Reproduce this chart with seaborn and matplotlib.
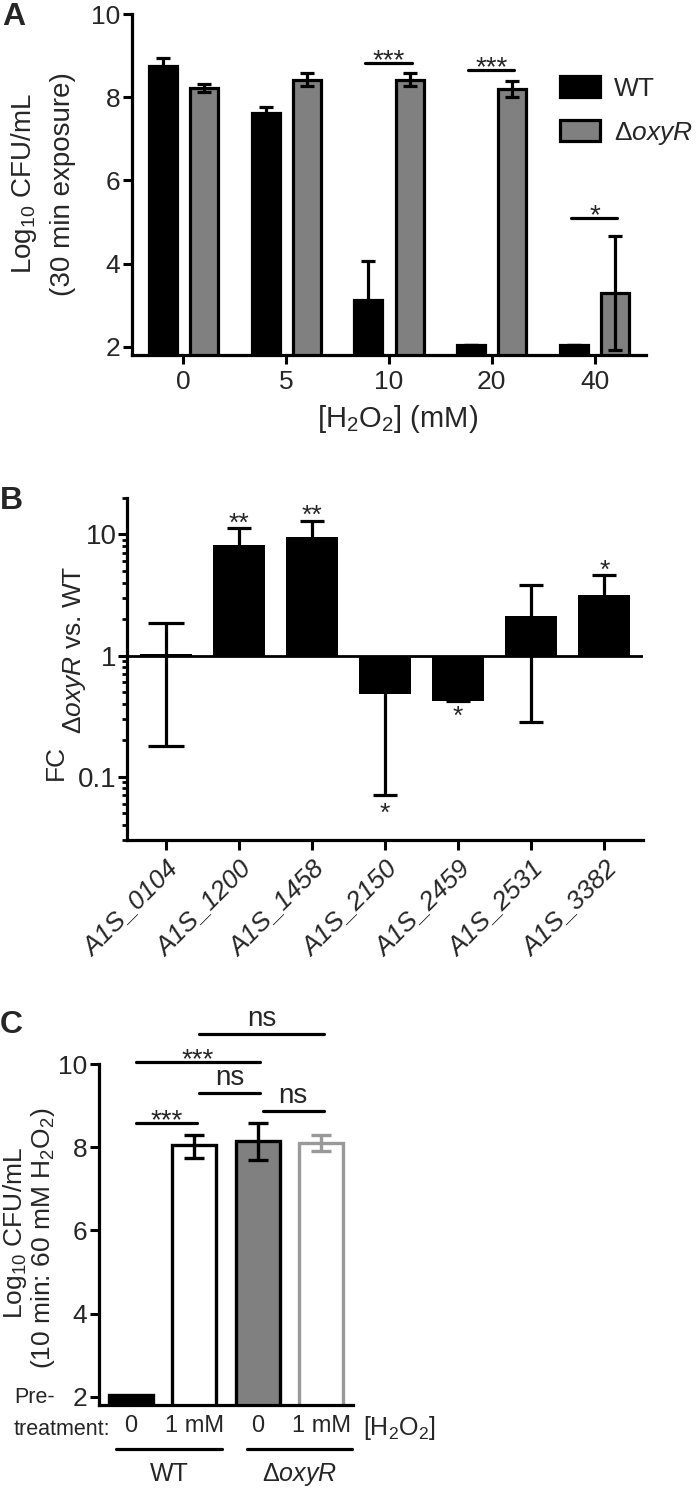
import numpy as np
import pandas as pd
import matplotlib
matplotlib.use("Agg")
import matplotlib.pyplot as plt
from matplotlib.patches import Patch
from matplotlib.lines import Line2D
from matplotlib.ticker import FixedLocator
import seaborn as sns

sns.set_theme(style="ticks")
plt.rcParams["font.family"] = ["Liberation Sans", "DejaVu Sans"]
plt.rcParams["mathtext.fontset"] = "custom"
plt.rcParams["mathtext.rm"] = "Liberation Sans"
plt.rcParams["mathtext.it"] = "Liberation Sans:italic"
plt.rcParams["mathtext.bf"] = "Liberation Sans:bold"

# ---- data: panel A (log10 CFU/mL after 30 min H2O2) ----
h2o2 = ["0", "5", "10", "20", "40"]
strains = ["WT", "ΔoxyR"]
a_wt = [8.75, 7.62, 3.13, 2.04, 2.04]
a_wt_sd = [0.20, 0.15, 0.92, 0.0, 0.0]
a_mut = [8.22, 8.42, 8.42, 8.20, 3.30]
a_mut_sd = [0.10, 0.15, 0.15, 0.20, 1.37]
a_sig = ["", "", "***", "***", "*"]
a_sig_y = [np.nan, np.nan, 8.83, 8.66, 5.10]

# ---- data: panel B (fold change, dOxyR vs WT) ----
genes = ["A1S_0104", "A1S_1200", "A1S_1458", "A1S_2150", "A1S_2459", "A1S_2531", "A1S_3382"]
fc = [1.03, 8.2, 9.5, 0.48, 0.42, 2.14, 3.19]
fc_lo = [0.18, 5.5, 6.5, 0.07, 0.42, 0.285, 1.8]
fc_hi = [1.85, 11.2, 13.0, 0.90, 0.60, 3.86, 4.6]
fc_sig = ["", "**", "**", "*", "*", "", "*"]
fc_sig_side = ["", "up", "up", "down", "down", "", "up"]

# ---- data: panel C (pretreatment) ----
c_groups = ["WT 0", "WT 1 mM", "oxyR 0", "oxyR 1 mM"]
c_ticklabels = ["0", "1 mM", "0", "1 mM"]
c_vals = [2.03, 8.05, 8.15, 8.10]
c_lo = [2.03, 7.75, 7.68, 7.90]
c_hi = [2.03, 8.30, 8.58, 8.30]
c_face = ["black", "white", "#808080", "white"]
c_edge = ["black", "black", "black", "#999999"]
c_pairs = [(0, 1), (1, 2), (2, 3), (0, 2), (1, 3)]
c_pair_sig = ["***", "ns", "ns", "***", "ns"]
c_pair_y = [8.59, 9.30, 8.87, 10.05, 10.72]

W, H = 700, 1489
fig = plt.figure(figsize=(W / 100, H / 100), dpi=100)


def fx(px):
    return px / W


def fy(py):
    return 1 - py / H


def style_axes(ax, size):
    sns.despine(ax=ax)
    for s in ["left", "bottom"]:
        ax.spines[s].set_linewidth(2.3)
        ax.spines[s].set_color("black")
    ax.tick_params(axis="both", width=2.2, length=6.5, color="black", labelsize=size, pad=2)


def vtext(px, py, s, size):
    fig.text(fx(px), fy(py), s, rotation=90, rotation_mode="anchor", ha="center",
             va="baseline", fontsize=size)


# ================= Panel A =================
axA = fig.add_axes([fx(132), fy(355), fx(514), 341 / H])
dfA = pd.DataFrame({"conc": h2o2 * 2, "strain": [strains[0]] * 5 + [strains[1]] * 5,
                    "cfu": a_wt + a_mut})
sns.barplot(data=dfA, x="conc", y="cfu", hue="strain", order=h2o2, hue_order=strains,
            palette={"WT": "black", "ΔoxyR": "#808080"}, width=0.8, gap=0.32,
            edgecolor="black", linewidth=2.3, errorbar=None, legend=False, ax=axA)
for cont, sd in zip(axA.containers, [a_wt_sd, a_mut_sd]):
    xs = [b.get_x() + b.get_width() / 2 for b in cont]
    ys = [b.get_height() for b in cont]
    axA.errorbar(xs, ys, yerr=sd, fmt="none", ecolor="black", elinewidth=2.3,
                 capsize=5, capthick=2.3, zorder=3)
for i, (s, yv) in enumerate(zip(a_sig, a_sig_y)):
    if s:
        axA.plot([i - 0.23, i + 0.22], [yv, yv], color="black", lw=2.3, clip_on=False)
        axA.annotate(s, (i, yv), xytext=(0, -4), textcoords="offset points",
                     ha="center", va="baseline", fontsize=20)
axA.set_ylim(1.8, 10)
axA.set_xlim(-0.5, 4.5)
axA.set_yticks([2, 4, 6, 8, 10])
axA.set_xlabel("")
axA.set_ylabel("")
style_axes(axA, 19)
axA.tick_params(axis="x", pad=4)
fig.text(fx(398), fy(427), r"[H$_\mathregular{2}$O$_\mathregular{2}$] (mM)", ha="center",
         va="baseline", fontsize=21)
vtext(31, 184, r"Log$_\mathregular{10}$ CFU/mL", 20)
vtext(70, 184, "(30 min exposure)", 20)
handles = [Patch(facecolor="black", edgecolor="black", linewidth=2.3),
           Patch(facecolor="#808080", edgecolor="black", linewidth=2.3)]
fig.legend(handles, ["WT", "Δ" + r"$\mathit{oxyR}$"], loc="upper left",
           bbox_to_anchor=(fx(560), fy(76)), frameon=False, fontsize=19,
           handlelength=1.5, handleheight=0.83, labelspacing=0.72, handletextpad=0.55,
           borderpad=0, borderaxespad=0)
fig.text(fx(2), fy(2), "A", fontsize=23, fontweight="bold", ha="left", va="top")

# ================= Panel B =================
axB = fig.add_axes([fx(127), fy(840), fx(516), 342 / H])
logfc = np.log10(fc)
sns.barplot(x=genes, y=logfc, color="black", width=0.71, edgecolor="black",
            linewidth=0, errorbar=None, ax=axB)
axB.axhline(0, color="black", lw=2.0, zorder=2)
for i in range(len(genes)):
    lo = max(logfc[i] - np.log10(fc_lo[i]), 0)
    hi = max(np.log10(fc_hi[i]) - logfc[i], 0)
    axB.errorbar([i], [logfc[i]], yerr=[[lo], [hi]], fmt="none", ecolor="black",
                 elinewidth=2.3, capsize=13 if i == 0 else 8.5, capthick=2.3, zorder=3)
    if fc_sig[i] == "":
        continue
    if fc_sig_side[i] == "up":
        axB.annotate(fc_sig[i], (i, np.log10(fc_hi[i])), xytext=(0, -1.5),
                     textcoords="offset points", ha="center", va="baseline", fontsize=19)
    else:
        yv = min(np.log10(fc_lo[i]), logfc[i])
        off = -18 if fc_lo[i] < fc[i] else -16
        axB.annotate(fc_sig[i], (i, yv), xytext=(0, off),
                     textcoords="offset points", ha="center", va="baseline", fontsize=19)
axB.set_ylim(np.log10(0.03), np.log10(20))
axB.set_xlim(-0.53, 6.53)
axB.set_yticks([-1, 0, 1])
axB.set_yticklabels(["0.1", "1", "10"])
minor = [k * 10.0 ** e for e in (-2, -1, 0, 1) for k in range(2, 10)]
minor = [np.log10(m) for m in minor if 0.03 <= m <= 20]
axB.yaxis.set_minor_locator(FixedLocator(minor))
style_axes(axB, 20)
axB.tick_params(axis="y", which="minor", width=2.0, length=3.5, color="black")
axB.tick_params(axis="y", pad=1)
axB.set_xticks(range(len(genes)))
axB.set_xticklabels(genes, rotation=45, ha="right", rotation_mode="anchor",
                    fontsize=19, style="italic")
axB.tick_params(axis="x", length=7, pad=5)
fig.text(fx(56), fy(762), "FC", rotation=90, ha="center", va="center", fontsize=19)
fig.text(fx(74), fy(650), "Δ" + r"$\mathit{oxyR}$" + " vs. WT", rotation=90,
         ha="center", va="center", fontsize=19)
fig.text(fx(0), fy(486), "B", fontsize=23, fontweight="bold", ha="left", va="top")

# ================= Panel C =================
axC = fig.add_axes([fx(99), fy(1405), fx(254), 341 / H])
sns.barplot(x=c_groups, y=c_vals, hue=c_groups, palette=c_face, width=0.69,
            linewidth=2.4, errorbar=None, legend=False, ax=axC)
for bar, ec in zip(axC.patches, c_edge):
    bar.set_edgecolor(ec)
for i in range(1, len(c_groups)):
    axC.errorbar([i], [c_vals[i]], yerr=[[c_vals[i] - c_lo[i]], [c_hi[i] - c_vals[i]]],
                 fmt="none", ecolor=c_edge[i], elinewidth=2.4, capsize=7.5,
                 capthick=2.4, zorder=3)
for (i, j), s, yv in zip(c_pairs, c_pair_sig, c_pair_y):
    x0, x1 = i + 0.08, j + 0.04
    axC.plot([x0, x1], [yv, yv], color="black", lw=2.3, clip_on=False)
    axC.annotate(s, ((x0 + x1) / 2, yv), xytext=(0, 6 if s == "ns" else -4),
                 textcoords="offset points", ha="center", va="baseline",
                 fontsize=20, annotation_clip=False)
axC.set_ylim(1.8, 10)
axC.set_xlim(-0.5, 3.5)
axC.set_yticks([2, 4, 6, 8, 10])
style_axes(axC, 19)
axC.set_xticks(range(len(c_groups)))
axC.set_xticklabels(c_ticklabels, fontsize=17)
axC.tick_params(axis="x", length=0, pad=7)
vtext(22, 1233, r"Log$_\mathregular{10}$ CFU/mL", 19)
vtext(50, 1238, r"(10 min: 60 mM H$_\mathregular{2}$O$_\mathregular{2}$)", 19)
fig.text(fx(14), fy(1403), "Pre-", ha="left", va="baseline", fontsize=15.5)
fig.text(fx(14), fy(1435), "treatment:", ha="left", va="baseline", fontsize=15.5)
fig.text(fx(363), fy(1435), r"[H$_\mathregular{2}$O$_\mathregular{2}$]", ha="left",
         va="baseline", fontsize=18)
for xa, xb, lab in [(116, 222, "WT"), (247, 352, "Δ" + r"$\mathit{oxyR}$")]:
    fig.add_artist(Line2D([fx(xa), fx(xb)], [fy(1449), fy(1449)], color="black", lw=2.3))
    fig.text(fx((xa + xb) / 2), fy(1481), lab, ha="center", va="baseline", fontsize=18)
fig.text(fx(0), fy(1010), "C", fontsize=23, fontweight="bold", ha="left", va="top")

fig.savefig("out.png", dpi=100)
